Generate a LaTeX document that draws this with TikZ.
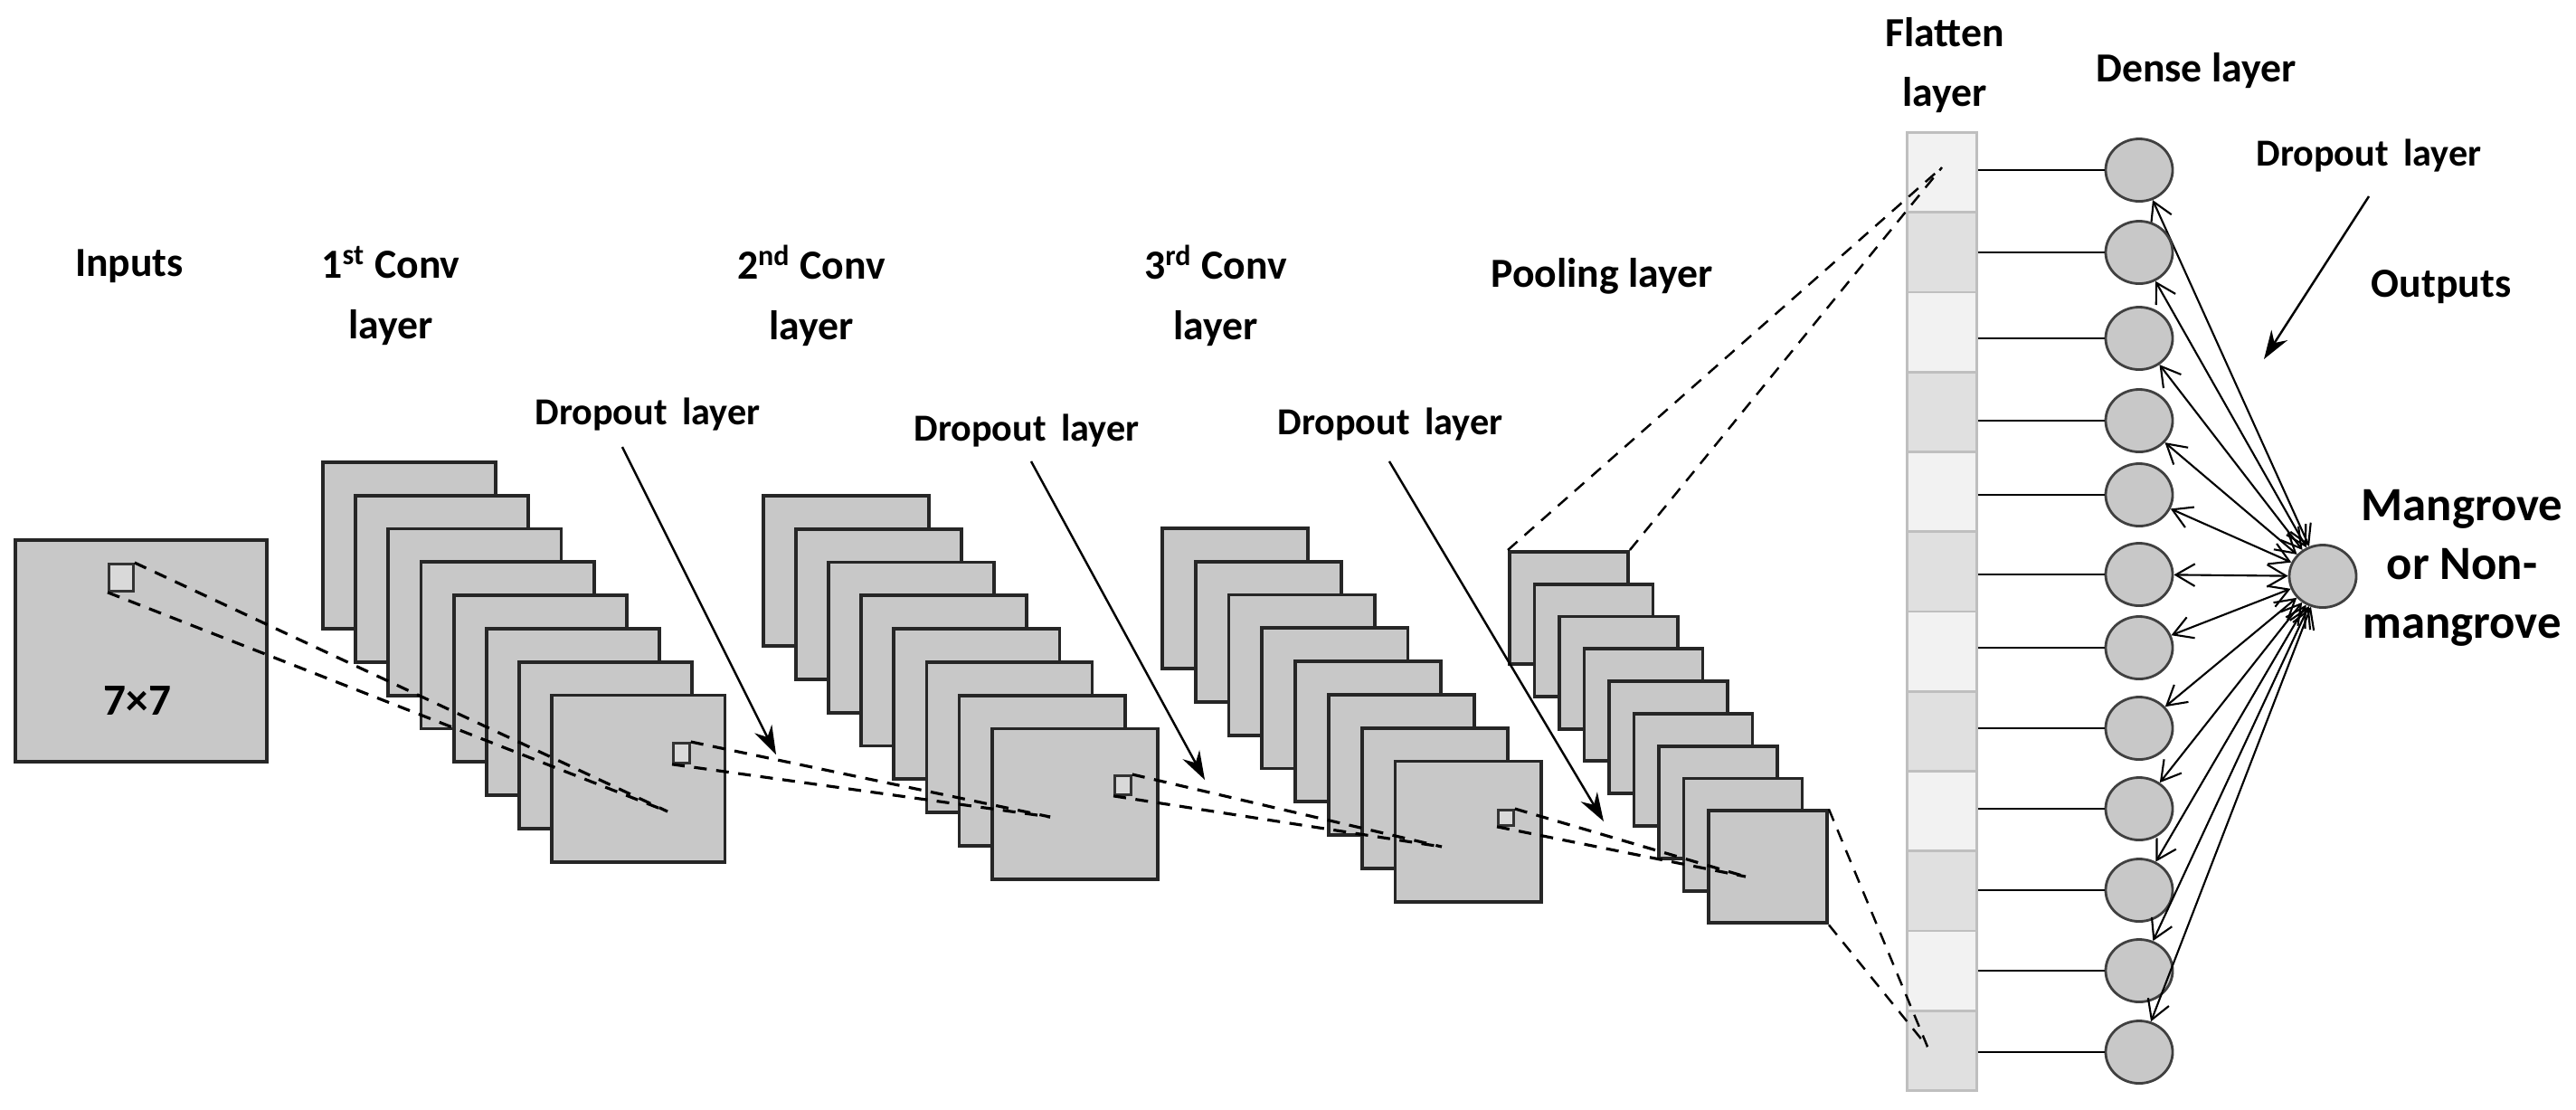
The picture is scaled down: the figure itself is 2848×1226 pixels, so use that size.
\documentclass[tikz,border=0pt]{standalone}
\usepackage{fontspec}
\setmainfont{Carlito}
\usetikzlibrary{arrows.meta,shapes.geometric}
\definecolor{mapgray}{HTML}{C8C8C8}
\definecolor{fl}{HTML}{F2F2F2}
\definecolor{fd}{HTML}{E0E0E0}
\begin{document}
\begin{tikzpicture}[x=0.01cm,y=-0.01cm,
  map/.style={draw=black!85,fill=mapgray,line width=1.1pt,inner sep=0pt,anchor=north west},
  sbox/.style={draw=black!80,fill=mapgray!70!white,line width=0.8pt,inner sep=0pt,anchor=north west},
  dline/.style={line width=0.9pt,dash pattern=on 4pt off 3pt},
  lab/.style={font=\bfseries\fontsize{13}{19}\selectfont,align=center},
  dlab/.style={font=\bfseries\fontsize{12}{14}\selectfont},
  cell/.style={draw=black!25,line width=0.8pt,inner sep=0pt,anchor=north west,minimum width=0.77cm,minimum height=0.8825cm},
  neu/.style={ellipse,draw=black!75,fill=mapgray,line width=0.8pt,minimum width=0.74cm,minimum height=0.69cm,inner sep=0pt},
  con/.style={line width=0.7pt},
  arr/.style={line width=0.7pt,-{Stealth[length=9pt,width=6pt]}},
  barb/.style={line width=0.6pt,{Straight Barb[length=6pt,width=7pt]}-{Straight Barb[length=6pt,width=7pt]}}
]
\useasboundingbox (0,0) rectangle (2848,1226);

% labels
\node[lab] (tin) at (143,294) {Inputs};
\node[lab] (tc1) at (432,327) {1\textsuperscript{st} Conv\\layer};
\node[lab] (tc2) at (897,327) {2\textsuperscript{nd} Conv\\layer};
\node[lab] (tc3) at (1344,327) {3\textsuperscript{rd} Conv\\layer};
\node[lab] (tpl) at (1771,305) {Pooling layer};
\node[lab] (tfl) at (2150,72) {Flatten\\layer};
\node[lab] (tde) at (2428,78) {Dense layer};
\node[lab] (tou) at (2699,317) {Outputs};
\node[lab,font=\bfseries\fontsize{15}{18.5}\selectfont] (tmg) at (2722,628) {Mangrove\\or Non-\\mangrove};
\node[dlab] (dl1) at (716,458) {Dropout\,\ layer};
\node[dlab] (dl2) at (1135,476) {Dropout\,\ layer};
\node[dlab] (dl3) at (1537,469) {Dropout\,\ layer};
\node[dlab] (dl4) at (2619,172) {Dropout\,\ layer};

% input
\node[map,minimum width=2.78cm,minimum height=2.45cm] (in) at (15,595) {};
\node[font=\bfseries\fontsize{14}{16}\selectfont] (t77) at (152,775) {7×7};
\node[sbox,minimum width=0.27cm,minimum height=0.30cm] (ib) at (119,622) {};

% conv1
\foreach \i in {0,...,7}{
  \node[map,minimum width=1.91cm,minimum height=1.84cm] (ca\i) at (355+36.2*\i,509+36.8*\i) {};
}
\node[sbox,minimum width=0.18cm,minimum height=0.22cm] (b1) at (743,820) {};
\coordinate (p1) at (738,897);
\draw[dline] (ib.north east) -- (p1);
\draw[dline] (ib.south west) -- (p1);

% conv2
\foreach \i in {0,...,7}{
  \node[map,minimum width=1.83cm,minimum height=1.66cm] (cb\i) at (842+36.1*\i,546+36.8*\i) {};
}
\node[sbox,minimum width=0.18cm,minimum height=0.21cm] (b2) at (1231,856) {};
\coordinate (p2) at (1161,903);
\draw[dline] (b1.north east) -- (p2);
\draw[dline] (b1.south west) -- (p2);

% conv3
\foreach \i in {0,...,7}{
  \node[map,minimum width=1.61cm,minimum height=1.55cm] (cc\i) at (1283+36.8*\i,582+36.8*\i) {};
}
\node[sbox,minimum width=0.17cm,minimum height=0.17cm] (b3) at (1655,894) {};
\coordinate (p3) at (1594,936);
\draw[dline] (b2.north east) -- (p3);
\draw[dline] (b2.south west) -- (p3);

% pooling
\foreach \i in {0,...,8}{
  \node[map,minimum width=1.31cm,minimum height=1.24cm] (pl\i) at (1667+27.5*\i,608+35.8*\i) {};
}
\coordinate (p4) at (1930,969);
\draw[dline] (b3.north east) -- (p4);
\draw[dline] (b3.south west) -- (p4);

% dropout arrows
\coordinate (a1s) at (688,494); \coordinate (a1e) at (858,834);
\coordinate (a2s) at (1140,510); \coordinate (a2e) at (1332,862);
\coordinate (a3s) at (1536,510); \coordinate (a3e) at (1773,908);
\coordinate (a4s) at (2619,217); \coordinate (a4e) at (2503,397);
\draw[arr] (a1s) -- (a1e);
\draw[arr] (a2s) -- (a2e);
\draw[arr] (a3s) -- (a3e);
\draw[arr] (a4s) -- (a4e);

% flatten
\foreach \i in {0,...,11}{
  \pgfmathsetmacro{\odd}{mod(\i,2)}
  \ifdim\odd pt=0pt
    \node[cell,fill=fl] (f\i) at (2107,145+88.25*\i) {};
  \else
    \node[cell,fill=fd] (f\i) at (2107,145+88.25*\i) {};
  \fi
}
\coordinate (ft) at (2147,185);
\coordinate (fb) at (2131,1157);
\draw[dline,line width=0.7pt] (pl0.north west) -- (ft);
\draw[dline,line width=0.7pt] (pl0.north east) -- (ft);
\draw[dline,line width=0.7pt] (pl8.north east) -- (fb);
\draw[dline,line width=0.7pt] (pl8.south east) -- (fb);

% dense
\node[neu] (o) at (2568,637) {};
\foreach \i/\y in {0/188,1/279,2/374,3/465,4/547,5/635,6/716,7/805,8/894,9/984,10/1073,11/1163}{
  \node[neu] (d\i) at (2365,\y) {};
  \draw[con] (f\i.east |- d\i.west) -- (d\i.west);
  \draw[barb] (d\i) -- (o);
}
\end{tikzpicture}
\end{document}
